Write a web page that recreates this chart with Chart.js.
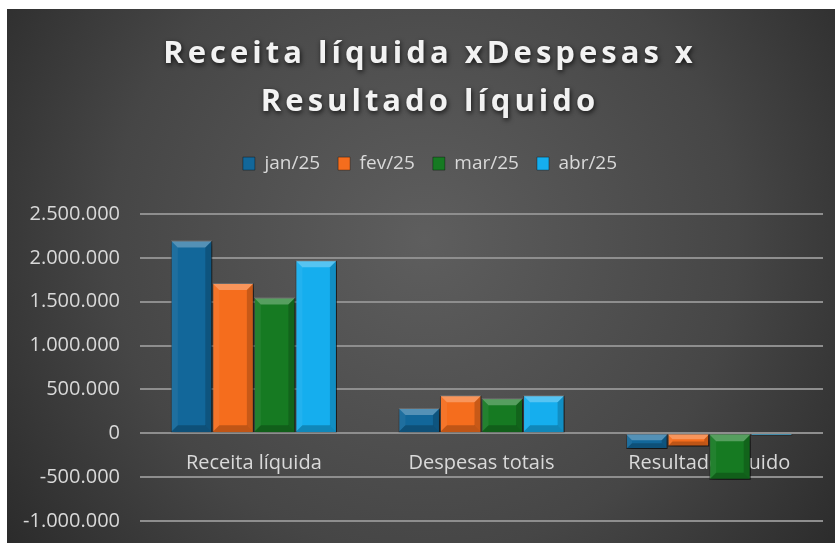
<!DOCTYPE html>
<html>
<head>
<meta charset="utf-8">
<script src="https://cdn.jsdelivr.net/npm/chart.js@4"></script>
<style>
  html, body { margin: 0; padding: 0; background: #ffffff; }
  #wrap { width: 835px; height: 543px; }
</style>
</head>
<body>
<div id="wrap"><canvas id="c" width="835" height="543"></canvas></div>
<script>
const categories = ['Receita líquida', 'Despesas totais', 'Resultado líquido'];
const seriesNames = ['jan/25', 'fev/25', 'mar/25', 'abr/25'];
const jan25 = [2200000, 290000, -180000];
const fev25 = [1715000, 435000, -150000];
const mar25 = [1550000, 400000, -530000];
const abr25 = [1975000, 435000, -25000];
const seriesColors = ['#12679a', '#f56d1d', '#167a22', '#15aeee'];
const yMin = -1000000, yMax = 2500000, yStep = 500000;
const titleLines = ['Receita líquida xDespesas x', 'Resultado líquido'];

function fmt(v) {
  const s = String(Math.abs(Math.round(v))).replace(/\B(?=(\d{3})+(?!\d))/g, '.');
  return (v < 0 ? '-' : '') + s;
}

const seriesValues = [jan25, fev25, mar25, abr25];
const HEADER_SHIFT = 15;

function wrapDraw(box, fn) {
  if (!box || box._wrapped) return;
  const orig = box.draw.bind(box);
  box.draw = function () { fn(orig); };
  box._wrapped = true;
}

const bgPlugin = {
  id: 'bg',
  beforeDraw(chart) {
    const ctx = chart.ctx, w = chart.width, h = chart.height;
    ctx.save();
    ctx.fillStyle = '#ffffff';
    ctx.fillRect(0, 0, w, h);
    const g = ctx.createRadialGradient(425, 240, 0, 425, 240, 570);
    g.addColorStop(0, '#5e5e5e');
    g.addColorStop(0.55, '#464646');
    g.addColorStop(1, '#242424');
    ctx.fillStyle = g;
    ctx.fillRect(7, 9, w - 7, h - 9);
    ctx.restore();
    wrapDraw(chart.titleBlock, (orig) => {
      const c = chart.ctx;
      c.save();
      c.translate(HEADER_SHIFT, 0);
      c.letterSpacing = '4px';
      c.shadowColor = 'rgba(0,0,0,0.75)';
      c.shadowBlur = 5;
      c.shadowOffsetX = 1;
      c.shadowOffsetY = 2;
      orig();
      c.restore();
    });
    wrapDraw(chart.legend, (orig) => {
      const c = chart.ctx;
      c.save();
      c.translate(HEADER_SHIFT, 0);
      orig();
      c.restore();
    });
  }
};

const shadowPlugin = {
  id: 'barShadow',
  beforeDatasetsDraw(chart) {
    const ctx = chart.ctx;
    ctx.save();
    ctx.shadowColor = 'rgba(0,0,0,0.55)';
    ctx.shadowBlur = 6;
    ctx.shadowOffsetX = 2;
    ctx.shadowOffsetY = 3;
  },
  afterDatasetsDraw(chart) {
    const ctx = chart.ctx;
    ctx.restore();
    chart.data.datasets.forEach((ds, di) => {
      const meta = chart.getDatasetMeta(di);
      meta.data.forEach(bar => {
        const p = bar.getProps(['x', 'y', 'base', 'width'], true);
        const left = p.x - p.width / 2, right = p.x + p.width / 2;
        const top = Math.min(p.y, p.base), bottom = Math.max(p.y, p.base);
        const hgt = bottom - top;
        if (hgt < 1) return;
        const b = Math.min(7, hgt / 2.5, p.width / 4);
        ctx.save();
        ctx.beginPath();
        ctx.moveTo(left, top); ctx.lineTo(right, top);
        ctx.lineTo(right - b, top + b); ctx.lineTo(left + b, top + b); ctx.closePath();
        ctx.fillStyle = 'rgba(255,255,255,0.28)'; ctx.fill();
        ctx.beginPath();
        ctx.moveTo(left, top); ctx.lineTo(left + b, top + b);
        ctx.lineTo(left + b, bottom - b); ctx.lineTo(left, bottom); ctx.closePath();
        ctx.fillStyle = 'rgba(255,255,255,0.06)'; ctx.fill();
        ctx.beginPath();
        ctx.moveTo(right, top); ctx.lineTo(right - b, top + b);
        ctx.lineTo(right - b, bottom - b); ctx.lineTo(right, bottom); ctx.closePath();
        ctx.fillStyle = 'rgba(0,0,0,0.18)'; ctx.fill();
        ctx.beginPath();
        ctx.moveTo(left, bottom); ctx.lineTo(left + b, bottom - b);
        ctx.lineTo(right - b, bottom - b); ctx.lineTo(right, bottom); ctx.closePath();
        ctx.fillStyle = 'rgba(0,0,0,0.22)'; ctx.fill();
        ctx.restore();
      });
    });
  }
};

const datasets = seriesNames.map((name, i) => ({
  label: name,
  data: seriesValues[i],
  backgroundColor: seriesColors[i],
  borderColor: 'rgba(0,0,0,0.35)',
  borderWidth: 1,
  categoryPercentage: 0.73,
  barPercentage: 1.0
}));

new Chart(document.getElementById('c'), {
  type: 'bar',
  data: { labels: categories, datasets },
  plugins: [bgPlugin, shadowPlugin],
  options: {
    responsive: false,
    animation: false,
    devicePixelRatio: 1,
    layout: { padding: { top: 9, left: 7, right: 12, bottom: 22 } },
    plugins: {
      title: {
        display: true,
        text: titleLines,
        color: '#f2f2f2',
        font: { family: '"Open Sans", sans-serif', size: 31, weight: 'bold', lineHeight: 1.55 },
        padding: { top: 21, bottom: 10 }
      },
      subtitle: {
        display: true,
        text: ' ',
        weight: 500,
        color: 'rgba(0,0,0,0)',
        font: { size: 1, lineHeight: 1 },
        padding: { top: 15, bottom: 15 }
      },
      legend: {
        display: true,
        position: 'top',
        labels: {
          color: '#d9d9d9',
          font: { family: '"Open Sans", sans-serif', size: 19 },
          boxWidth: 12,
          boxHeight: 13,
          padding: 18
        }
      },
      tooltip: { enabled: false }
    },
    scales: {
      x: {
        position: { y: 0 },
        grid: { display: false, drawTicks: false },
        border: { display: false },
        ticks: {
          color: '#d9d9d9',
          font: { family: '"Open Sans", sans-serif', size: 20 },
          padding: 18,
          maxRotation: 0,
          autoSkip: false
        }
      },
      y: {
        min: yMin,
        max: yMax,
        afterFit(scale) { scale.width = 133; },
        grid: { color: '#8e8e8e', lineWidth: 2, drawTicks: true, tickLength: 20, tickColor: 'rgba(0,0,0,0)' },
        border: { display: false },
        ticks: {
          stepSize: yStep,
          color: '#d9d9d9',
          font: { family: '"Open Sans", sans-serif', size: 20 },
          padding: 0,
          callback: (v) => fmt(v)
        }
      }
    }
  }
});
</script>
</body>
</html>
